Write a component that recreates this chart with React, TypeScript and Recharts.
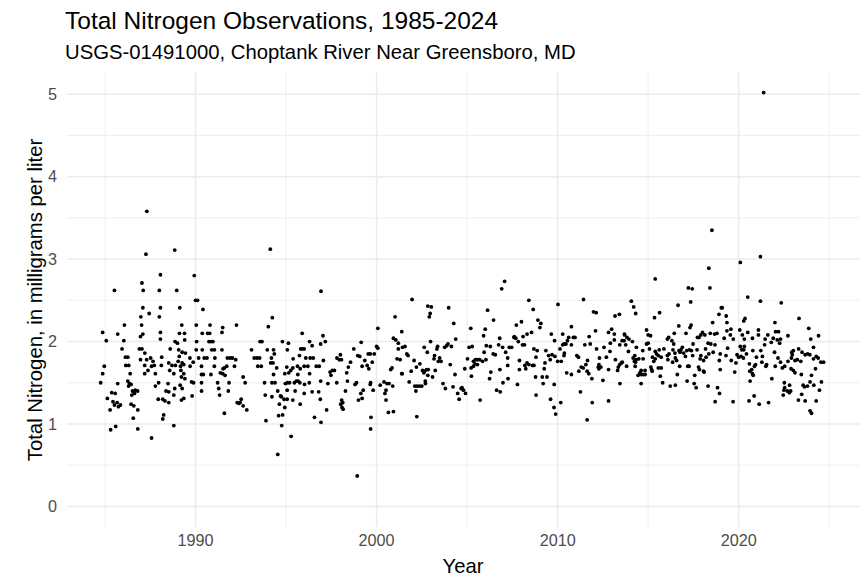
import React from "react";
import { ScatterChart, Scatter, XAxis, YAxis, CartesianGrid } from "recharts";

const obs1985to1989 = [
  [1987.31, 3.58], [1987.26, 3.06], [1988.85, 3.11], [1988.06, 2.81], [1987.04, 2.71], [1985.52, 2.62],
  [1987.11, 2.62], [1988.0, 2.62], [1988.96, 2.62], [1987.09, 2.41], [1987.44, 2.34], [1988.06, 2.41],
  [1989.13, 2.41], [1986.98, 2.3], [1988.0, 2.3], [1986.07, 2.2], [1987.02, 2.2], [1989.24, 2.2],
  [1984.87, 2.11], [1985.07, 2.01], [1985.7, 2.09], [1986.04, 2.01], [1986.96, 2.06], [1987.09, 2.09],
  [1988.06, 2.11], [1988.06, 2.03], [1989.11, 2.1], [1989.39, 2.1], [1988.87, 2.0], [1989.0, 1.98],
  [1989.4, 2.02], [1985.94, 1.91], [1986.9, 1.91], [1987.04, 1.91], [1987.2, 1.86], [1988.6, 1.91],
  [1989.07, 1.9], [1989.26, 1.87], [1989.1, 1.82], [1989.44, 1.86], [1986.13, 1.81], [1986.26, 1.81],
  [1986.96, 1.78], [1987.3, 1.78], [1987.52, 1.8], [1987.65, 1.76], [1987.57, 1.7], [1987.72, 1.71],
  [1988.13, 1.81], [1988.52, 1.74], [1988.7, 1.71], [1988.89, 1.71], [1989.04, 1.76], [1989.26, 1.74],
  [1989.17, 1.7], [1989.35, 1.72], [1984.96, 1.7], [1986.15, 1.71], [1986.31, 1.71], [1987.19, 1.71],
  [1988.11, 1.71], [1988.57, 1.65], [1988.8, 1.61], [1984.87, 1.61], [1986.39, 1.61], [1987.19, 1.61],
  [1987.37, 1.65], [1987.78, 1.61], [1989.19, 1.65], [1989.35, 1.61], [1989.22, 1.57], [1989.41, 1.55],
  [1984.76, 1.5], [1985.7, 1.49], [1986.26, 1.52], [1986.35, 1.49], [1986.44, 1.48], [1986.3, 1.46],
  [1987.96, 1.5], [1987.78, 1.46], [1988.48, 1.49], [1989.15, 1.47], [1989.26, 1.43], [1988.52, 1.39],
  [1988.37, 1.4], [1988.85, 1.43], [1985.37, 1.38], [1985.56, 1.37], [1986.52, 1.4], [1986.67, 1.41],
  [1986.8, 1.4], [1986.63, 1.37], [1986.48, 1.35], [1985.13, 1.31], [1987.94, 1.3], [1988.19, 1.3],
  [1988.31, 1.28], [1988.52, 1.26], [1988.8, 1.35], [1989.22, 1.29], [1989.35, 1.31], [1985.44, 1.27],
  [1985.67, 1.26], [1985.74, 1.21], [1985.85, 1.23], [1985.28, 1.17], [1985.52, 1.23], [1986.44, 1.24],
  [1986.59, 1.22], [1986.81, 1.17], [1988.24, 1.11], [1988.19, 1.06], [1986.56, 1.07], [1988.8, 0.98],
  [1985.31, 0.93], [1985.59, 0.97], [1986.81, 0.94], [1987.57, 0.83],
];

const obs1990to1995 = [
  [1994.13, 3.12], [1989.93, 2.8], [1990.0, 2.5], [1990.11, 2.5], [1990.41, 2.39], [1994.24, 2.29],
  [1994.02, 2.18], [1992.26, 2.2], [1991.5, 2.17], [1991.46, 2.11], [1990.04, 2.2], [1990.8, 2.2],
  [1990.37, 2.1], [1990.67, 2.1], [1990.78, 2.1], [1990.06, 2.0], [1990.74, 2.0], [1990.85, 2.0],
  [1990.96, 2.0], [1993.56, 2.0], [1993.67, 2.0], [1994.8, 2.0], [1995.13, 1.98], [1990.04, 1.9],
  [1990.37, 1.9], [1990.89, 1.9], [1991.04, 1.9], [1991.46, 1.9], [1993.09, 1.9], [1993.96, 1.9],
  [1994.31, 1.9], [1995.07, 1.9], [1994.35, 1.85], [1989.69, 1.8], [1990.17, 1.8], [1990.48, 1.8],
  [1990.63, 1.8], [1991.07, 1.8], [1991.76, 1.8], [1991.91, 1.8], [1992.04, 1.8], [1992.22, 1.78],
  [1993.24, 1.8], [1993.39, 1.8], [1993.54, 1.8], [1994.19, 1.8], [1995.39, 1.79], [1989.87, 1.75],
  [1994.15, 1.74], [1994.28, 1.74], [1989.7, 1.7], [1990.33, 1.7], [1991.04, 1.7], [1991.72, 1.7],
  [1991.59, 1.68], [1992.15, 1.7], [1993.44, 1.7], [1993.63, 1.7], [1994.48, 1.68], [1995.04, 1.69],
  [1995.26, 1.65], [1995.37, 1.68], [1991.52, 1.67], [1991.5, 1.61], [1991.37, 1.62], [1991.63, 1.59],
  [1990.33, 1.6], [1990.43, 1.6], [1990.85, 1.6], [1994.31, 1.6], [1994.93, 1.61], [1995.15, 1.62],
  [1992.63, 1.57], [1989.78, 1.51], [1989.89, 1.5], [1990.33, 1.5], [1991.22, 1.5], [1991.85, 1.5],
  [1992.74, 1.5], [1993.81, 1.5], [1994.22, 1.5], [1994.39, 1.5], [1994.96, 1.49], [1995.07, 1.5],
  [1995.19, 1.5], [1990.33, 1.4], [1991.28, 1.43], [1991.81, 1.4], [1994.54, 1.4], [1994.69, 1.34],
  [1995.06, 1.41], [1989.81, 1.34], [1991.33, 1.35], [1993.85, 1.35], [1994.22, 1.33], [1994.74, 1.33],
  [1994.89, 1.3], [1995.06, 1.3], [1995.37, 1.29], [1992.52, 1.3], [1992.46, 1.26], [1992.3, 1.26],
  [1992.39, 1.25], [1992.63, 1.22], [1992.83, 1.17], [1994.63, 1.24], [1994.93, 1.2], [1991.59, 1.13],
  [1994.59, 1.1], [1994.81, 1.11], [1993.89, 1.04], [1994.76, 0.98], [1995.28, 0.85], [1994.54, 0.63],
];

const obs1995to2001 = [
  [1996.93, 2.61], [2000.07, 2.16], [2001.02, 2.3], [1995.89, 2.1], [1997.04, 2.07], [1996.91, 1.97],
  [1997.17, 2.0], [1996.3, 2.0], [1996.44, 1.95], [1999.15, 1.99], [2000.93, 2.04], [2001.06, 2.02],
  [2001.2, 1.98], [2001.39, 2.12], [2000.0, 1.94], [2000.07, 1.92], [1998.74, 1.91], [2001.2, 1.91],
  [2001.43, 1.93], [1995.81, 1.91], [1995.89, 1.91], [1996.0, 1.91], [1995.74, 1.83], [1996.09, 1.8],
  [1996.33, 1.8], [1996.5, 1.8], [1997.06, 1.77], [1997.81, 1.8], [1997.94, 1.78], [1998.06, 1.78],
  [1998.0, 1.84], [1998.56, 1.75], [1998.96, 1.83], [1999.07, 1.82], [1999.54, 1.85], [1999.65, 1.85],
  [1999.87, 1.85], [1999.35, 1.77], [1999.76, 1.75], [2001.13, 1.79], [2001.3, 1.78], [1995.63, 1.7],
  [1995.78, 1.67], [1996.0, 1.7], [1996.2, 1.7], [1996.67, 1.7], [1996.83, 1.7], [1998.44, 1.69],
  [1999.2, 1.7], [1999.48, 1.71], [1999.57, 1.67], [2000.78, 1.66], [2000.85, 1.68], [1997.43, 1.63],
  [1997.56, 1.65], [1997.67, 1.65], [1997.48, 1.59], [1998.35, 1.62], [1995.65, 1.6], [1996.3, 1.61],
  [2001.39, 1.61], [1995.46, 1.5], [1995.57, 1.52], [1995.67, 1.52], [1995.76, 1.5], [1996.02, 1.48],
  [1996.28, 1.5], [1996.91, 1.52], [1997.31, 1.49], [1997.8, 1.5], [1998.39, 1.52], [1998.81, 1.48],
  [1998.89, 1.5], [1999.67, 1.5], [1999.65, 1.48], [2000.2, 1.47], [2000.41, 1.51], [2000.57, 1.49],
  [2000.69, 1.49], [2000.89, 1.46], [1995.5, 1.4], [1996.0, 1.37], [1996.44, 1.39], [1996.8, 1.39],
  [1998.28, 1.4], [1999.13, 1.37], [1999.26, 1.41], [1999.81, 1.41], [2000.52, 1.41], [2000.46, 1.37],
  [1995.78, 1.24], [1996.89, 1.3], [1998.07, 1.29], [1998.13, 1.26], [1998.02, 1.24], [1998.09, 1.2],
  [1998.15, 1.18], [1999.0, 1.29], [1999.2, 1.31], [2000.52, 1.29], [1997.24, 1.17], [2000.65, 1.14],
  [2000.93, 1.15], [1996.57, 1.08], [1996.93, 1.02], [1999.69, 1.08], [1999.67, 0.94], [1998.93, 0.37],
];

const obs2001to2007 = [
  [2007.07, 2.73], [2006.91, 2.64], [2001.96, 2.51], [2002.83, 2.43], [2003.02, 2.42], [2002.96, 2.34],
  [2002.91, 2.3], [2003.98, 2.41], [2006.13, 2.38], [2006.46, 2.26], [2004.26, 2.22], [2005.2, 2.16],
  [2006.0, 2.15], [2005.91, 2.07], [2004.37, 2.03], [2006.8, 2.04], [2007.59, 2.05], [2002.98, 2.0],
  [2001.57, 1.94], [2002.63, 1.93], [2003.37, 1.94], [2003.33, 1.91], [2003.76, 1.93], [2003.87, 1.95],
  [2003.94, 1.97], [2004.13, 1.94], [2005.11, 1.93], [2005.28, 1.94], [2006.06, 1.95], [2006.28, 1.94],
  [2006.74, 1.96], [2006.96, 1.93], [2007.33, 1.93], [2007.46, 1.93], [2002.8, 1.87], [2001.67, 1.85],
  [2001.74, 1.83], [2003.2, 1.83], [2003.17, 1.79], [2003.48, 1.8], [2003.41, 1.76], [2003.56, 1.76],
  [2005.94, 1.87], [2006.44, 1.85], [2006.56, 1.84], [2007.13, 1.87], [2007.24, 1.8], [2002.07, 1.77],
  [2002.39, 1.73], [2005.02, 1.79], [2005.35, 1.76], [2005.46, 1.78], [2005.57, 1.78], [2005.69, 1.78],
  [2005.85, 1.76], [2006.04, 1.78], [2005.43, 1.73], [2005.57, 1.72], [2005.35, 1.7], [2004.07, 1.72],
  [2007.24, 1.71], [2002.2, 1.69], [2002.54, 1.65], [2002.65, 1.64], [2002.61, 1.62], [2002.76, 1.66],
  [2002.83, 1.59], [2002.85, 1.66], [2003.24, 1.65], [2004.87, 1.67], [2005.22, 1.68], [2006.81, 1.66],
  [2001.41, 1.61], [2001.91, 1.64], [2003.09, 1.57], [2004.33, 1.6], [2005.24, 1.58], [2006.31, 1.63],
  [2007.26, 1.55], [2006.24, 1.55], [2001.8, 1.51], [2006.98, 1.5], [2002.11, 1.46], [2002.24, 1.46],
  [2002.37, 1.46], [2002.5, 1.46], [2002.7, 1.49], [2002.69, 1.52], [2002.17, 1.4], [2003.67, 1.49],
  [2003.8, 1.43], [2004.22, 1.45], [2004.67, 1.43], [2004.72, 1.44], [2004.8, 1.41], [2004.48, 1.37],
  [2004.56, 1.3], [2004.91, 1.37], [2005.72, 1.29], [2006.63, 1.41], [2006.83, 1.39], [2002.22, 1.09],
];

const obs2007to2013 = [
  [2008.41, 2.5], [2011.43, 2.51], [2010.02, 2.45], [2008.65, 2.39], [2011.98, 2.36], [2012.13, 2.35],
  [2013.17, 2.31], [2013.41, 2.33], [2007.72, 2.2], [2008.0, 2.24], [2008.91, 2.26], [2009.07, 2.22],
  [2009.02, 2.17], [2010.76, 2.18], [2012.09, 2.13], [2012.98, 2.15], [2012.81, 2.11], [2013.13, 2.09],
  [2013.69, 2.09], [2008.31, 2.09], [2008.56, 2.11], [2008.09, 2.06], [2009.65, 2.09], [2010.28, 2.09],
  [2007.61, 2.06], [2007.69, 2.04], [2007.83, 2.0], [2008.06, 1.96], [2008.17, 1.96], [2011.74, 2.06],
  [2010.96, 2.05], [2010.87, 2.05], [2010.61, 2.05], [2010.54, 2.01], [2010.46, 1.97], [2010.35, 1.97],
  [2010.28, 1.96], [2009.83, 2.01], [2010.76, 1.96], [2011.5, 1.96], [2011.8, 1.97], [2013.13, 2.02],
  [2013.56, 2.01], [2013.67, 2.01], [2013.43, 1.96], [2012.91, 1.98], [2012.15, 1.91], [2012.56, 1.93],
  [2010.13, 1.91], [2008.69, 1.91], [2008.87, 1.89], [2009.35, 1.89], [2009.5, 1.83], [2009.69, 1.84],
  [2009.85, 1.82], [2009.59, 1.78], [2010.37, 1.86], [2010.35, 1.83], [2011.06, 1.83], [2011.15, 1.81],
  [2012.89, 1.88], [2012.69, 1.81], [2012.31, 1.8], [2008.8, 1.81], [2009.3, 1.74], [2010.0, 1.76],
  [2010.2, 1.76], [2011.65, 1.77], [2013.19, 1.78], [2013.52, 1.74], [2013.43, 1.72], [2013.35, 1.69],
  [2013.31, 1.65], [2007.89, 1.77], [2008.31, 1.74], [2008.41, 1.72], [2008.19, 1.71], [2008.61, 1.71],
  [2008.69, 1.71], [2008.24, 1.67], [2007.89, 1.66], [2009.26, 1.67], [2011.3, 1.69], [2011.41, 1.68],
  [2011.17, 1.64], [2011.56, 1.72], [2011.63, 1.64], [2011.72, 1.61], [2012.28, 1.72], [2012.24, 1.69],
  [2012.39, 1.69], [2012.28, 1.67], [2012.81, 1.66], [2010.5, 1.62], [2010.76, 1.6], [2008.78, 1.57],
  [2009.15, 1.57], [2009.41, 1.57], [2011.89, 1.55], [2012.5, 1.53], [2007.78, 1.48], [2009.2, 1.49],
  [2009.81, 1.48], [2013.44, 1.49], [2011.26, 1.39], [2008.81, 1.35], [2009.61, 1.3], [2010.17, 1.26],
  [2011.91, 1.26], [2012.81, 1.28], [2009.8, 1.2], [2009.89, 1.12], [2011.63, 1.05],
];

const obs2013to2019 = [
  [2018.52, 3.35], [2018.35, 2.89], [2015.39, 2.76], [2018.41, 2.65], [2017.22, 2.65], [2017.43, 2.64],
  [2014.07, 2.49], [2014.2, 2.42], [2014.31, 2.34], [2017.35, 2.48], [2015.63, 2.35], [2015.35, 2.29],
  [2016.65, 2.44], [2019.04, 2.41], [2019.09, 2.41], [2018.91, 2.33], [2019.31, 2.31], [2019.35, 2.23],
  [2018.56, 2.23], [2016.69, 2.19], [2017.37, 2.2], [2017.31, 2.17], [2014.91, 2.14], [2019.57, 2.15],
  [2019.35, 2.13], [2019.54, 2.08], [2015.0, 2.08], [2015.13, 2.07], [2016.44, 2.1], [2017.09, 2.1],
  [2018.0, 2.11], [2017.91, 2.08], [2017.81, 2.05], [2018.13, 2.08], [2017.72, 2.05], [2018.43, 2.1],
  [2018.67, 2.09], [2018.8, 2.1], [2019.2, 2.04], [2013.7, 2.08], [2013.83, 2.05], [2013.94, 2.03],
  [2016.13, 2.05], [2016.06, 2.03], [2016.31, 2.01], [2016.41, 1.97], [2015.0, 1.98], [2014.91, 1.97],
  [2014.13, 2.0], [2013.76, 1.96], [2014.35, 1.93], [2019.7, 2.03], [2017.48, 1.97], [2018.31, 1.98],
  [2018.46, 1.97], [2018.69, 1.96], [2018.17, 1.91], [2016.89, 1.93], [2016.81, 1.9], [2016.7, 1.89],
  [2016.76, 1.87], [2015.87, 1.91], [2015.61, 1.9], [2015.07, 1.91], [2016.37, 1.9], [2016.48, 1.86],
  [2019.39, 1.92], [2014.7, 1.89], [2013.91, 1.88], [2017.13, 1.89], [2017.28, 1.9], [2017.39, 1.89],
  [2017.7, 1.9], [2015.39, 1.88], [2015.46, 1.85], [2015.56, 1.83], [2016.15, 1.85], [2016.06, 1.83],
  [2016.96, 1.86], [2017.06, 1.82], [2017.46, 1.83], [2017.91, 1.83], [2018.2, 1.81], [2018.35, 1.85],
  [2018.59, 1.87], [2018.98, 1.85], [2019.3, 1.83], [2014.26, 1.83], [2014.17, 1.8], [2014.33, 1.78],
  [2014.48, 1.79], [2014.72, 1.79], [2014.24, 1.76], [2014.3, 1.75], [2015.24, 1.81], [2015.31, 1.76],
  [2015.72, 1.81], [2015.39, 1.79], [2016.09, 1.78], [2016.35, 1.75], [2016.5, 1.8], [2016.57, 1.77],
  [2017.87, 1.79], [2018.06, 1.77], [2018.93, 1.77], [2019.59, 1.77], [2013.57, 1.75], [2013.81, 1.7],
  [2014.28, 1.7], [2015.15, 1.69], [2015.19, 1.66], [2015.22, 1.64], [2015.56, 1.68], [2015.72, 1.68],
  [2016.74, 1.7], [2017.19, 1.7], [2017.26, 1.7], [2017.78, 1.69], [2017.83, 1.66], [2018.06, 1.64],
  [2018.09, 1.63], [2018.98, 1.66], [2014.61, 1.65], [2014.83, 1.65], [2014.54, 1.62], [2014.61, 1.6],
  [2014.44, 1.59], [2014.72, 1.6], [2014.83, 1.6], [2015.67, 1.58], [2015.8, 1.5], [2016.61, 1.6],
  [2017.57, 1.59], [2014.61, 1.49], [2019.78, 1.63], [2016.22, 1.46], [2016.5, 1.47], [2017.15, 1.52],
  [2017.54, 1.49], [2017.65, 1.44], [2018.31, 1.46], [2018.83, 1.44], [2018.94, 1.37], [2018.7, 1.27],
  [2019.69, 1.27],
];

const obs2019to2024 = [
  [2021.38, 5.02], [2021.2, 3.03], [2020.09, 2.96], [2020.5, 2.54], [2021.2, 2.49], [2022.35, 2.47],
  [2023.33, 2.28], [2020.35, 2.28], [2020.28, 2.25], [2022.0, 2.23], [2023.87, 2.16], [2020.06, 2.14],
  [2020.5, 2.11], [2021.09, 2.14], [2022.04, 2.12], [2022.2, 2.12], [2020.2, 2.08], [2021.09, 2.08],
  [2021.61, 2.08], [2022.72, 2.07], [2024.41, 2.07], [2020.31, 2.03], [2020.76, 2.04], [2021.46, 2.03],
  [2021.91, 2.04], [2022.13, 2.02], [2022.31, 2.03], [2023.98, 2.03], [2021.8, 1.99], [2022.26, 1.98],
  [2021.43, 1.96], [2020.09, 1.94], [2020.31, 1.94], [2020.17, 1.9], [2020.28, 1.9], [2020.43, 1.85],
  [2021.22, 1.89], [2020.78, 1.89], [2021.98, 1.87], [2023.02, 1.89], [2023.31, 1.91], [2023.5, 1.87],
  [2024.13, 1.93], [2023.67, 1.84], [2023.81, 1.85], [2023.93, 1.84], [2023.24, 1.78], [2022.93, 1.87],
  [2022.96, 1.84], [2022.91, 1.8], [2019.91, 1.84], [2020.0, 1.81], [2020.13, 1.82], [2020.26, 1.8],
  [2019.85, 1.74], [2020.98, 1.81], [2021.31, 1.82], [2021.28, 1.75], [2022.17, 1.8], [2022.31, 1.75],
  [2024.28, 1.82], [2024.39, 1.8], [2024.54, 1.75], [2024.69, 1.75], [2022.72, 1.76], [2023.11, 1.77],
  [2023.43, 1.76], [2024.13, 1.79], [2020.59, 1.73], [2020.93, 1.72], [2020.87, 1.7], [2021.54, 1.72],
  [2021.5, 1.7], [2022.02, 1.7], [2020.72, 1.66], [2020.61, 1.64], [2020.76, 1.61], [2020.8, 1.59],
  [2022.41, 1.68], [2022.54, 1.7], [2022.89, 1.67], [2023.02, 1.65], [2023.11, 1.62], [2024.24, 1.67],
  [2023.46, 1.6], [2024.02, 1.59], [2021.83, 1.55], [2020.63, 1.52], [2022.52, 1.5], [2022.54, 1.44],
  [2022.81, 1.47], [2023.56, 1.47], [2023.63, 1.45], [2023.8, 1.46], [2023.94, 1.51], [2024.15, 1.47],
  [2024.57, 1.51], [2022.5, 1.41], [2022.69, 1.4], [2022.8, 1.38], [2022.87, 1.4], [2022.46, 1.35],
  [2024.46, 1.41], [2023.48, 1.36], [2020.85, 1.34], [2020.57, 1.28], [2021.13, 1.24], [2021.65, 1.26],
  [2023.3, 1.29], [2023.67, 1.28], [2024.28, 1.28], [2023.94, 1.16], [2024.02, 1.13],
];

const yearTicks = [1990, 2000, 2010, 2020];
const yearMinor = [1985, 1995, 2005, 2015, 2025];
const nTicks = [0, 1, 2, 3, 4, 5];
const nMinor = [0.5, 1.5, 2.5, 3.5, 4.5];

const observations = [
  ...obs1985to1989,
  ...obs1990to1995,
  ...obs1995to2001,
  ...obs2001to2007,
  ...obs2007to2013,
  ...obs2013to2019,
  ...obs2019to2024,
].map(([year, tn]) => ({ year, tn }));

const FONT = "'Liberation Sans', Arial, sans-serif";
const GRID = "#ebebeb";

// small ggplot-style dot
const Dot = (props: any) => <circle cx={props.cx} cy={props.cy} r={1.9} fill="#000" />;

const App = () => {
  return (
    <div
      style={{
        position: "absolute",
        left: 0,
        top: 0,
        width: 864,
        height: 577,
        background: "#fff",
        fontFamily: FONT,
      }}
    >
      <div style={{ position: "absolute", left: 65, top: 9, fontSize: 24.5, lineHeight: 1, color: "#000", whiteSpace: "nowrap" }}>
        Total Nitrogen Observations, 1985-2024
      </div>
      <div style={{ position: "absolute", left: 65, top: 42, fontSize: 20.3, lineHeight: 1, color: "#000", whiteSpace: "nowrap" }}>
        USGS-01491000, Choptank River Near Greensboro, MD
      </div>

      <ScatterChart
        width={864}
        height={577}
        margin={{ top: 72, right: 4, bottom: 0, left: 0 }}
        style={{ position: "absolute", left: 0, top: 0 }}
      >
        {/* minor grid lines first, then the major ones */}
        <CartesianGrid stroke={GRID} strokeWidth={0.8} horizontalValues={nMinor} verticalValues={yearMinor} />
        <CartesianGrid stroke={GRID} strokeWidth={1.5} horizontalValues={nTicks} verticalValues={yearTicks} />
        <XAxis
          type="number"
          dataKey="year"
          domain={[1982.9, 2026.7]}
          ticks={yearTicks}
          allowDataOverflow
          axisLine={false}
          tickLine={false}
          tickSize={0}
          tickMargin={7}
          height={50}
          tick={{ fill: "#4d4d4d", fontSize: 16.2, fontFamily: FONT }}
        />
        <YAxis
          type="number"
          dataKey="tn"
          domain={[-0.25, 5.27]}
          ticks={nTicks}
          allowDataOverflow
          axisLine={false}
          tickLine={false}
          tickSize={0}
          tickMargin={10}
          width={67}
          tick={{ fill: "#4d4d4d", fontSize: 16.2, fontFamily: FONT }}
        />
        <Scatter data={observations} fill="#000" shape={Dot} isAnimationActive={false} />
      </ScatterChart>

      <div
        style={{
          position: "absolute",
          left: 463,
          top: 556,
          transform: "translateX(-50%)",
          fontSize: 20.3,
          lineHeight: 1,
          color: "#000",
        }}
      >
        Year
      </div>
      <div
        style={{
          position: "absolute",
          left: 35,
          top: 300,
          transform: "translate(-50%, -50%) rotate(-90deg)",
          fontSize: 20.3,
          lineHeight: 1,
          color: "#000",
          whiteSpace: "nowrap",
        }}
      >
        Total Nitrogen, in milligrams per liter
      </div>
    </div>
  );
};

export default App;
